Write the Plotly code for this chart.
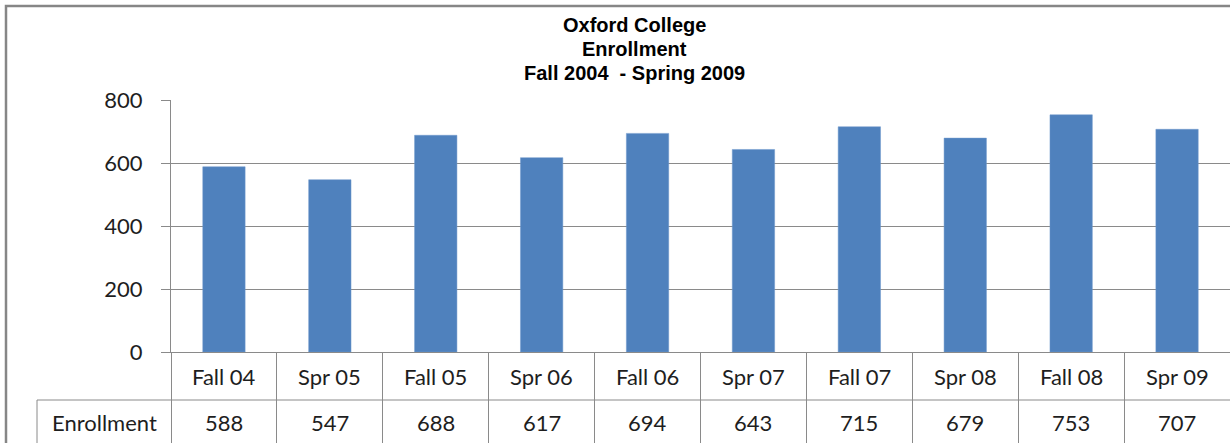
import plotly.graph_objects as go

categories = ["Fall 04", "Spr 05", "Fall 05", "Spr 06", "Fall 06", "Spr 07", "Fall 07", "Spr 08", "Fall 08", "Spr 09"]
enrollment = [588, 547, 688, 617, 694, 643, 715, 679, 753, 707]
series_name = "Enrollment"
title_lines = ["Oxford College", "Enrollment", "Fall 2004  - Spring 2009"]
y_ticks = [0, 200, 400, 600, 800]

W, H = 1230, 443
GRAY = "#8a8a8a"
TXT = "#1e1e1e"
FONT = "Lato"

def py(pix):
    return 1 - pix / H

def px(pix):
    return pix / W

fig = go.Figure()
fig.add_trace(go.Bar(x=categories, y=enrollment, width=0.4,
                     marker=dict(color="#4F81BD", line=dict(color="#6f98cc", width=0.5)),
                     name=series_name, showlegend=False, hoverinfo="x+y"))

fig.update_layout(
    template="none",
    width=W, height=H,
    margin=dict(l=0, r=0, t=0, b=0, pad=0, autoexpand=False),
    paper_bgcolor="white", plot_bgcolor="white",
    bargap=0.6,
    xaxis=dict(type="category", range=[-0.5, 9.5], domain=[px(171), 1],
               showticklabels=False, tickson="boundaries", ticks="outside",
               ticklen=91, tickcolor=GRAY, tickwidth=1, automargin=False,
               showline=True, linecolor=GRAY, linewidth=1, showgrid=False,
               zeroline=False),
    yaxis=dict(range=[0, 800], tickvals=y_ticks, domain=[py(352), py(100)],
               showline=True, linecolor=GRAY, linewidth=1, automargin=False,
               ticks="outside", ticklen=9, tickcolor=GRAY,
               showgrid=True, gridcolor=GRAY, gridwidth=1, zeroline=False,
               tickfont=dict(family=FONT, size=22, color=TXT),
               ticklabelstandoff=14),
)

# title
for t, yp in zip(title_lines, [25, 49, 73]):
    fig.add_annotation(text="<b>%s</b>" % t, x=px(634), y=py(yp), xref="paper", yref="paper",
                       showarrow=False, xanchor="center", yanchor="middle",
                       font=dict(family="Liberation Sans", size=20, color="black"))

# data table texts
for c, v in zip(categories, enrollment):
    fig.add_annotation(text=c, x=c, y=py(376), xref="x", yref="paper", showarrow=False,
                       xanchor="center", yanchor="middle",
                       font=dict(family=FONT, size=22, color=TXT))
    fig.add_annotation(text=str(v), x=c, y=py(422), xref="x", yref="paper", showarrow=False,
                       xanchor="center", yanchor="middle",
                       font=dict(family=FONT, size=22, color=TXT))
fig.add_annotation(text=series_name, x=px(104), y=py(422), xref="paper", yref="paper",
                   showarrow=False, xanchor="center", yanchor="middle",
                   font=dict(family=FONT, size=22, color=TXT))

# table lines
fig.add_shape(type="line", xref="paper", yref="paper", x0=px(37), x1=1.0, y0=py(400), y1=py(400),
              line=dict(color=GRAY, width=1))
fig.add_shape(type="line", xref="paper", yref="paper", x0=px(37), x1=px(37), y0=py(400), y1=py(450),
              line=dict(color=GRAY, width=1))

# outer chart frame
fig.add_shape(type="rect", xref="paper", yref="paper", x0=px(6), x1=1.2, y0=-0.2, y1=py(6),
              line=dict(color="#868686", width=2.5), layer="above")

fig.write_html("out.html", config={"displayModeBar": False},
               post_script="document.body.style.margin='0';document.body.style.overflow='hidden';")
